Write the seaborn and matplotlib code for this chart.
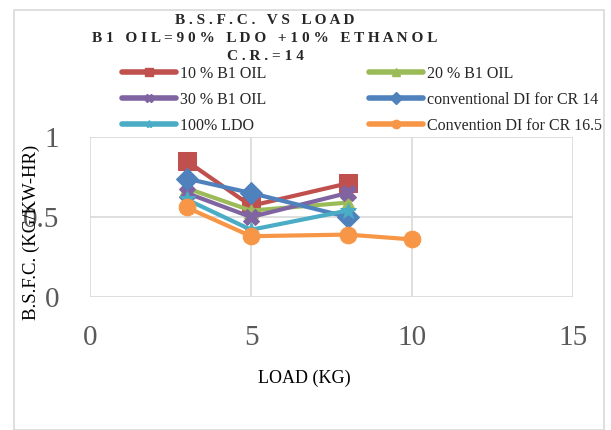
import matplotlib
matplotlib.use("Agg")
import matplotlib.pyplot as plt
import seaborn as sns
import pandas as pd
from matplotlib.patches import Rectangle
from matplotlib.lines import Line2D

sns.set_theme(style="white")
plt.rcParams['font.family'] = ['Liberation Serif', 'DejaVu Serif']

load_a = [3, 5, 8]
load_b = [3, 5, 8, 10]
b1_10 = [0.85, 0.57, 0.71]
b1_20 = [0.68, 0.54, 0.59]
b1_30 = [0.65, 0.50, 0.65]
conv_cr14 = [0.74, 0.65, 0.50]
ldo_100 = [0.61, 0.42, 0.54]
conv_cr165 = [0.56, 0.38, 0.39, 0.36]

labels = ["10 % B1 OIL", "20 % B1 OIL", "30 % B1 OIL",
          "conventional DI for CR 14", "100% LDO", "Convention DI for CR 16.5"]
xs = [load_a, load_a, load_a, load_a, load_a, load_b]
ys = [b1_10, b1_20, b1_30, conv_cr14, ldo_100, conv_cr165]
colors = ["#C0504D", "#9BBB59", "#8064A2", "#4F81BD", "#4BACC6", "#F79646"]
markers = ["s", "^", "X", "D", "*", "o"]
msizes = [12.5, 10, 11, 11, 12, 12]

fig = plt.figure(figsize=(6.11, 4.30), dpi=100)
ax = fig.add_axes([90/611, 1-297/430, (573-90)/611, 160/430])

handles = []
for x, y, c, m, ms, lab in zip(xs, ys, colors, markers, msizes, labels):
    df = pd.DataFrame({"x": x, "y": y})
    sns.lineplot(data=df, x="x", y="y", ax=ax, color=c, linewidth=3,
                 marker=m, markersize=ms, markeredgecolor=c, sort=False,
                 legend=False, clip_on=False)
    handles.append(Line2D([], [], color=c, lw=4, marker=m, markersize=6,
                          markeredgecolor=c))

ax.set_xlim(0, 15)
ax.set_ylim(0, 1)
ax.set_xticks([0, 5, 10, 15])
ax.set_yticks([0, 0.5, 1])
ax.set_yticklabels(["0", "0.5", "1"])
ax.grid(True, color="#D9D9D9", lw=1.2)
for s in ax.spines.values():
    s.set_visible(False)
ax.tick_params(axis="both", length=0, labelsize=21, labelcolor="#595959")
ax.tick_params(axis="y", pad=22)
ax.tick_params(axis="x", pad=20)

ax.set_xlabel("LOAD (KG)", fontsize=13, color="black")
ax.xaxis.set_label_coords((304-90)/483, (297-370)/160)
ax.set_ylabel("B.S.F.C. (KG/KW-HR)", fontsize=13.5, color="black")
ax.yaxis.set_label_coords((40-90)/483, (297-232)/160)

def spaced(t):
    return " ".join(list(t))

title_lines = ["B.S.F.C. VS LOAD", "B1 OIL=90% LDO +10% ETHANOL", "C.R.=14"]
title_y = [21, 39, 57]
for t, yy in zip(title_lines, title_y):
    fig.text(265/611, 1-yy/430, spaced(t), ha="center", va="center",
             fontsize=11, fontweight="bold")

order = [0, 2, 4, 1, 3, 5]
fig.legend(handles=[handles[i] for i in order], labels=[labels[i] for i in order],
           ncol=2, loc="upper left",
           bbox_to_anchor=(122/611, 1-66/430), frameon=False, fontsize=11.5,
           handlelength=3.4, handletextpad=0.25, columnspacing=6.4,
           labelspacing=0.62, borderpad=0, borderaxespad=0)

fig.patches.append(Rectangle((13.5/611, 0), (604-13.5)/611, 1-10/430,
                             transform=fig.transFigure, fill=False,
                             edgecolor="#D9D9D9", lw=1.2))

fig.savefig("out.png", dpi=100)
